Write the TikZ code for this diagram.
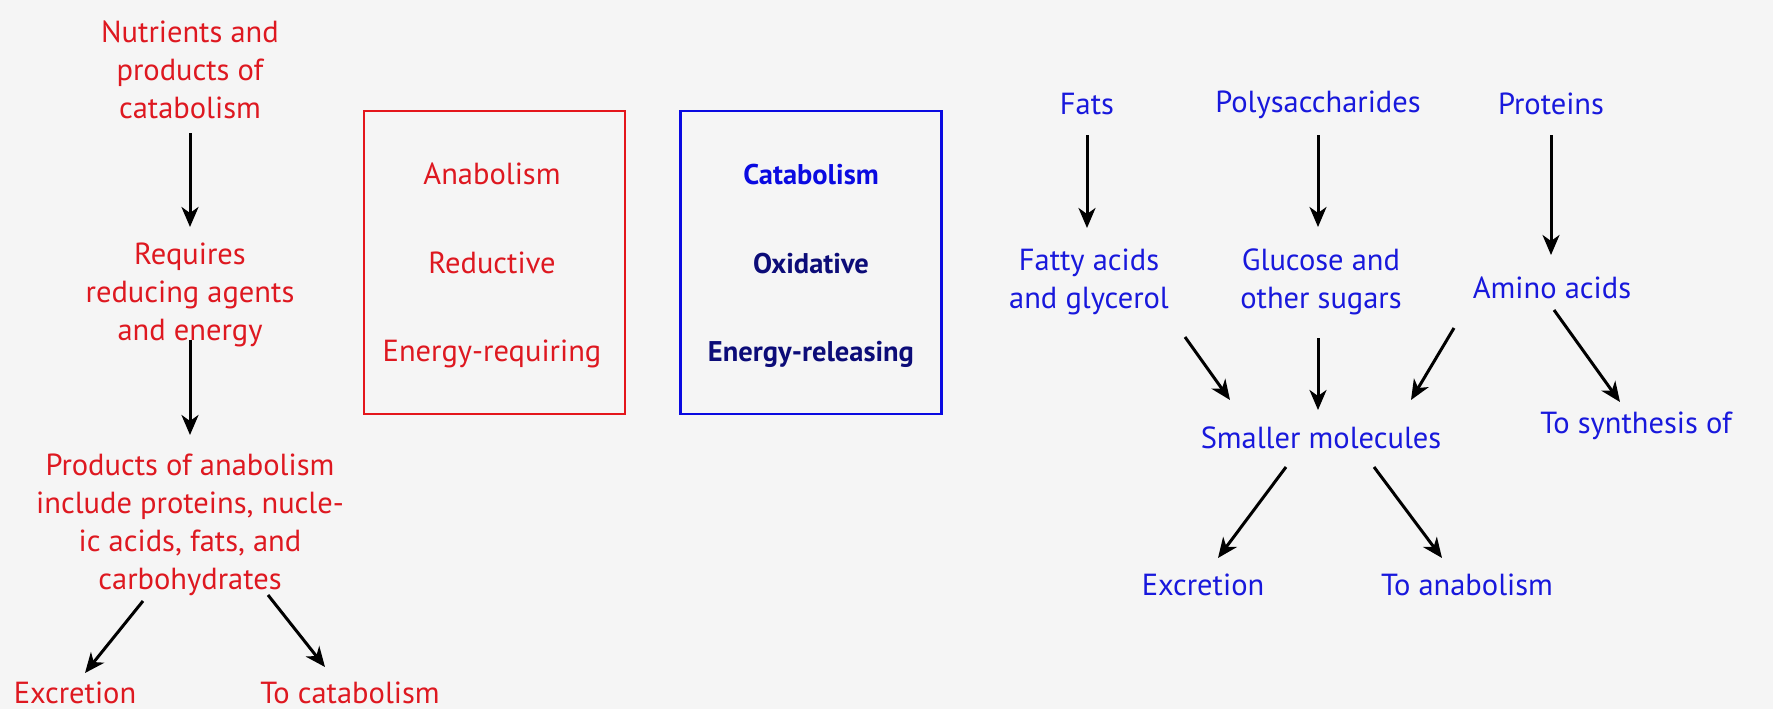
\documentclass[tikz,border=0pt]{standalone}
\usepackage{fontspec}
\setmainfont{PT Sans}
\usetikzlibrary{arrows.meta,calc}
\definecolor{tred}{RGB}{222,24,32}
\definecolor{boxred}{RGB}{228,22,28}
\definecolor{tblue}{RGB}{24,24,220}
\definecolor{bblue}{RGB}{10,10,225}
\definecolor{navy}{RGB}{12,12,120}
\definecolor{bgc}{RGB}{245,245,245}
\begin{document}
\begin{tikzpicture}[x=1pt,y=-1pt,
  lbl/.style={inner sep=0pt, align=center, anchor=base, font=\fontsize{30.5}{37.8}\selectfont},
  rlbl/.style={lbl, text=tred},
  blbl/.style={lbl, text=tblue},
  bdlbl/.style={lbl, font=\fontsize{28.5}{37.8}\selectfont\bfseries},
  arr/.style={line width=3pt, draw=black, -{Stealth[length=20pt,width=17pt,inset=6pt]}},
  boxnode/.style={draw, line width=2.5pt, minimum width=261pt, minimum height=303pt, inner sep=0pt}
]
\fill[bgc] (0,0) rectangle (1773,709);
\useasboundingbox (0,0) rectangle (1773,709);

% Left column (base = last line baseline)
\node[rlbl] (nut) at (190,118) {Nutrients and\\products of\\catabolism};
\node[rlbl] (req) at (190,340) {Requires\\reducing agents\\and energy};
\node[rlbl] (prod) at (190,589) {Products of anabolism\\include proteins, nucle-\\ic acids, fats, and\\carbohydrates};
\node[rlbl] (exca) at (75,703) {Excretion};
\node[rlbl] (tocat) at (350,703) {To catabolism};

\draw[arr] ($(nut.base)+(0,15)$) -- ($(req.base)+(0,-113)$);
\draw[arr] ($(req.base)+(0,0)$) -- ($(prod.base)+(0,-154)$);
\draw[arr] ($(prod.base)+(-47,12)$) -- ($(exca.base)+(10,-30)$);
\draw[arr] ($(prod.base)+(78,6)$) -- ($(tocat.base)+(-25,-36)$);

% Boxes
\node[boxnode, draw=boxred] (abox) at (494.5,262.5) {};
\node[boxnode, draw=bblue] (cbox) at (811,262.5) {};
\node[rlbl] (anab) at (492,184) {Anabolism};
\node[rlbl] (redu) at (492,273) {Reductive};
\node[rlbl] (enreq) at (492,361) {Energy-requiring};
\node[bdlbl, text=bblue] (cata) at (811,184) {Catabolism};
\node[bdlbl, text=navy] (oxid) at (811,273) {Oxidative};
\node[bdlbl, text=navy] (enrel) at (811,361) {Energy-releasing};

% Right part
\node[blbl] (fats) at (1087,114) {Fats};
\node[blbl] (poly) at (1318,112) {Polysaccharides};
\node[blbl] (prot) at (1551,114) {Proteins};
\node[blbl] (fatty) at (1089,308) {Fatty acids\\and glycerol};
\node[blbl] (gluc) at (1321,308) {Glucose and\\other sugars};
\node[blbl] (amino) at (1552,298) {Amino acids};
\node[blbl] (small) at (1321,448) {Smaller molecules};
\node[blbl] (synth) at (1636,433) {To synthesis of};
\node[blbl] (excb) at (1203,595) {Excretion};
\node[blbl] (toana) at (1467,595) {To anabolism};

\draw[arr] ($(fats.base)+(0,21)$) -- ($(fatty.base)+(-2,-80)$);
\draw[arr] ($(poly.base)+(0,23)$) -- ($(gluc.base)+(-3,-81)$);
\draw[arr] ($(prot.base)+(0,21)$) -- ($(amino.base)+(-1,-43)$);
\draw[arr] ($(fatty.base)+(96,29)$) -- ($(small.base)+(-91,-48)$);
\draw[arr] ($(gluc.base)+(-3,30)$) -- ($(small.base)+(-3,-38)$);
\draw[arr] ($(amino.base)+(-98,30)$) -- ($(small.base)+(90,-48)$);
\draw[arr] ($(amino.base)+(2,12)$) -- ($(synth.base)+(-16,-31)$);
\draw[arr] ($(small.base)+(-35,19)$) -- ($(excb.base)+(15,-37)$);
\draw[arr] ($(small.base)+(53,19)$) -- ($(toana.base)+(-25,-37)$);
\end{tikzpicture}
\end{document}
